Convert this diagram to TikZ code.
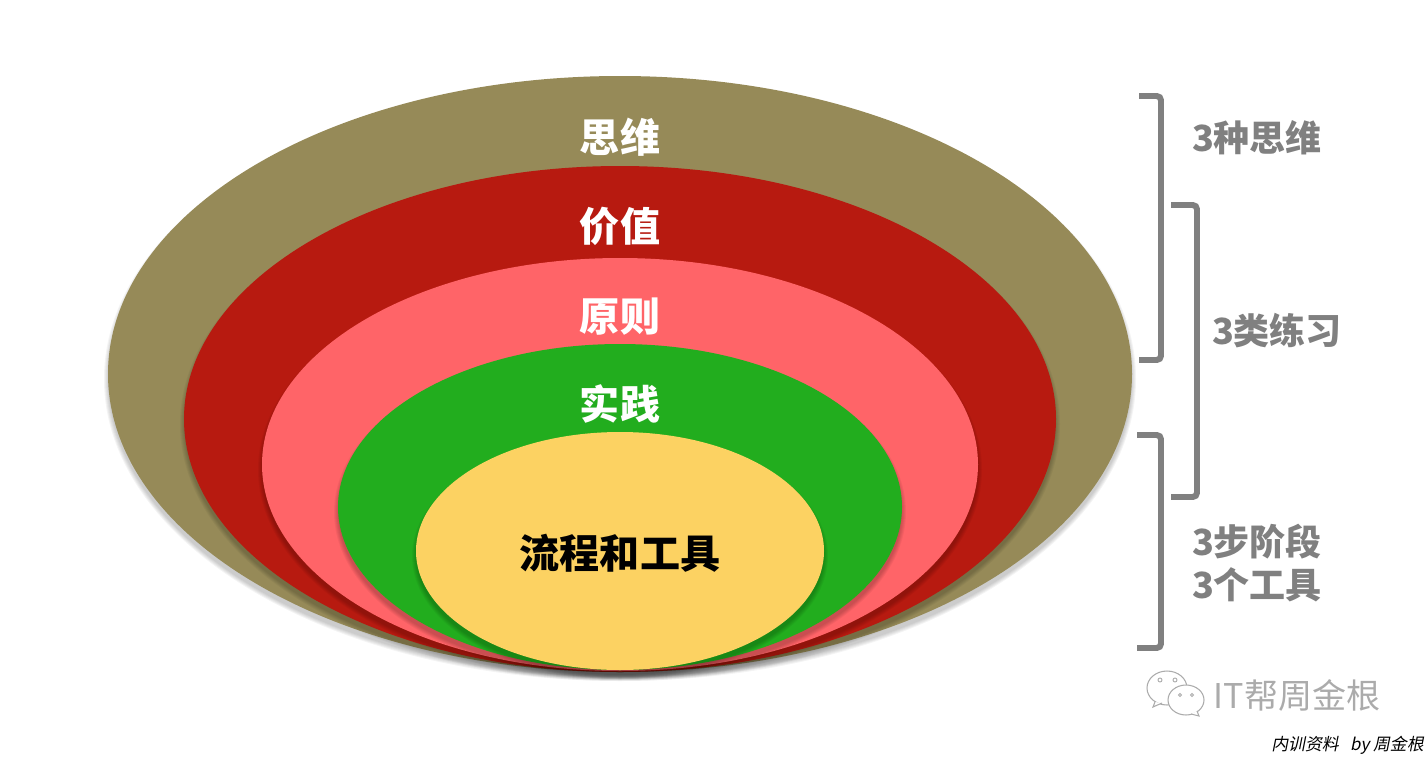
\documentclass[tikz,border=0pt]{standalone}
\usepackage{fontspec}
\setmainfont{Noto Sans CJK SC}
\newfontfamily\notefont[FakeSlant=0.2]{Noto Sans CJK SC}
\definecolor{khaki}{HTML}{968A58}
\definecolor{crimson}{HTML}{B71A10}
\definecolor{salmon}{HTML}{FF6468}
\definecolor{leaf}{HTML}{22AD1E}
\definecolor{butter}{HTML}{FCD262}
\definecolor{slate}{HTML}{808080}
\definecolor{haze}{HTML}{ABABAB}
\tikzset{
  ringlabel/.style={font=\bfseries\fontsize{22.8}{26}\selectfont,text=white},
  sidelabel/.style={font=\bfseries\fontsize{20.5}{24.5}\selectfont,text=slate,align=center},
  bracket/.style={draw=slate,line width=3.4pt,rounded corners=2.4pt},
  bubble/.style={draw=haze,fill=white,line width=.6pt}
}
\begin{document}
\begin{tikzpicture}[x=.02cm,y=-.02cm]
  \useasboundingbox (0,0) rectangle (1428,758);
  % rings, outermost first
  \foreach \cx/\cy/\rx/\ry/\col in {
      620/374/512/298/khaki,
      620/419/436/253/crimson,
      620/464.5/358/206.5/salmon,
      620/507/282/163/leaf,
      620/551/204/119/butter}{
    \foreach \s in {4,3,2,1,0}
      \fill[black,opacity=.045] (\cx,\cy+5) ellipse [x radius=\rx+\s,y radius=\ry+\s];
    \fill[\col] (\cx,\cy) ellipse [x radius=\rx,y radius=\ry];
  }
  \node[ringlabel] (thinking) at (620,137) {思维};
  \node[ringlabel] (value) at (620,226) {价值};
  \node[ringlabel] (principle) at (620,317) {原则};
  \node[ringlabel] (practice) at (620,404) {实践};
  \node[ringlabel,text=black] (process) at (620,553) {流程和工具};
  % side brackets
  \draw[bracket] (1139,96) -- (1161,96) -- (1161,360) -- (1139,360);
  \draw[bracket] (1171,205) -- (1197,205) -- (1197,497) -- (1171,497);
  \draw[bracket] (1137,435) -- (1161,435) -- (1161,648) -- (1137,648);
  \node[sidelabel] (modes) at (1257,138) {3种思维};
  \node[sidelabel] (drills) at (1277,331) {3类练习};
  \node[sidelabel] (stages) at (1257,563) {3步阶段\\3个工具};
  % chat mark
  \draw[bubble] (1167,688) ellipse [x radius=20,y radius=17];
  \draw[bubble] (1155,702) -- (1153,707) -- (1162,703);
  \draw[bubble] (1186,700) ellipse [x radius=18,y radius=15];
  \draw[bubble] (1191,714) -- (1199,716) -- (1197,711);
  \draw[haze,line width=.5pt] (1160,680) circle (2) (1175,680) circle (2)
    (1180,695) circle (1.6) (1192,695) circle (1.6);
  \node[text=haze,font=\fontsize{19.4}{22}\selectfont] (brand) at (1297,695) {IT帮周金根};
  \node[font=\notefont\fontsize{9.6}{11}\selectfont] (credit) at (1347.5,745) {内训资料 \ \ by 周金根};
\end{tikzpicture}
\end{document}
